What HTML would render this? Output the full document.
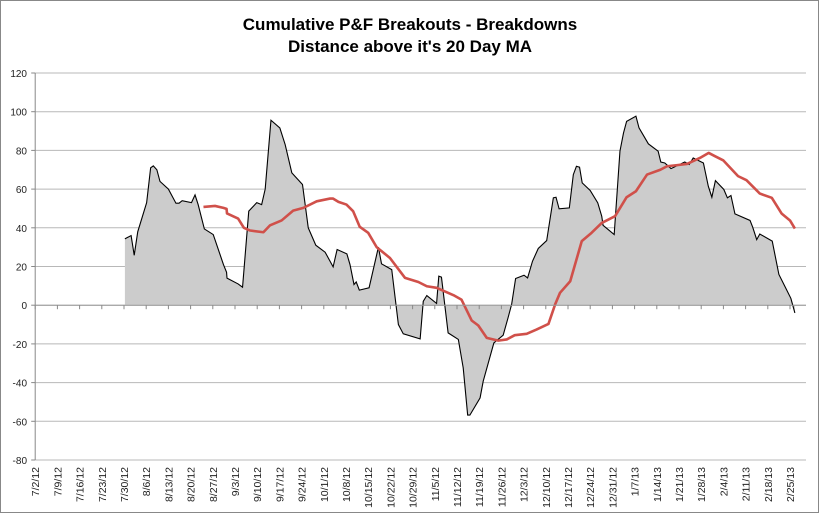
<!DOCTYPE html>
<html><head><meta charset="utf-8"><style>
body{margin:0;background:#fff}
svg{display:block;font-family:"Liberation Sans",sans-serif}
</style></head><body>
<svg id="chart" width="820" height="514">
<rect x="0.5" y="0.5" width="818" height="512" fill="#fff" stroke="#888"/>
<text x="410" y="30" text-anchor="middle" font-size="17" font-weight="bold">Cumulative P&amp;F Breakouts - Breakdowns</text>
<text x="410" y="52" text-anchor="middle" font-size="17" font-weight="bold">Distance above it's 20 Day MA</text>
<g id="grid"></g><g id="series"></g><g id="axes"></g>
</svg>
<script>
const weekLabels=["7/2/12","7/9/12","7/16/12","7/23/12","7/30/12","8/6/12","8/13/12","8/20/12","8/27/12","9/3/12","9/10/12","9/17/12","9/24/12","10/1/12","10/8/12","10/15/12","10/22/12","10/29/12","11/5/12","11/12/12","11/19/12","11/26/12","12/3/12","12/10/12","12/17/12","12/24/12","12/31/12","1/7/13","1/14/13","1/21/13","1/28/13","2/4/13","2/11/13","2/18/13","2/25/13"];
const yTicks=[-80,-60,-40,-20,0,20,40,60,80,100,120];
const breakoutDays=[20.2,21.6,22.3,23.1,25.1,26.0,26.6,27.4,28.1,30.0,31.7,32.4,33.1,35.2,36.0,36.7,38.1,40.1,42.4,43.1,43.2,45.7,46.7,48.1,49.9,51.0,51.8,53.1,55.1,56.3,57.8,60.2,61.5,63.2,65.3,67.1,68.0,70.2,70.9,71.8,72.3,73.0,75.2,77.3,78.0,80.3,81.8,82.9,86.7,87.4,88.2,90.4,90.9,91.5,93.0,95.3,96.4,97.4,97.9,100.2,100.9,103.3,105.4,106.5,107.3,108.2,110.1,110.9,112.0,113.3,115.2,116.7,117.3,118.0,120.3,121.2,121.9,122.6,123.2,125.0,126.7,127.6,127.9,130.4,131.0,131.7,132.5,133.2,135.3,136.0,138.1,140.3,140.9,141.8,143.2,146.3,147.3,148.2,149.7,150.5,151.6,152.4,153.2,155.1,155.9,156.7,157.6,161.0,161.6,162.5,163.2,166.0,166.6,167.5,169.2,170.2,171.1];
const breakoutValues=[34.3,36,25.8,38,53,71,72,70,64,60,52.7,52.7,54,53,57,52,39.4,36.5,21,17,14,11,9.3,48.6,53,52,60,95.6,91.6,83,68.4,62.4,40,31,27.4,19.8,28.8,26.5,21,10.7,12,7.8,9,30,21.4,18.4,-10,-14.8,-17.4,2,5,0.9,15,14.5,-14.3,-17.7,-32.4,-56.8,-56.8,-47.9,-39.3,-19.5,-15.5,-6.5,0.4,13.8,15.5,14.1,22.7,29.3,33.4,55.5,55.8,49.8,50.3,67.5,71.8,71.3,63.2,59.3,52.9,46,41.3,36.5,56.3,79.6,89,95,97.7,91.6,83.4,79.6,74,73.5,70.6,74,72.7,76.1,74.4,73.5,61.5,55.8,64.4,59.8,55.5,56.7,47.2,43.8,40.3,33.9,36.8,33.1,26.2,15.9,8.1,3.5,-4];
const maDays=[37.9,40.5,42.4,43.1,43.2,45.7,47.0,48.4,51.4,52.9,55.5,58.1,60.4,63.4,66.4,67.1,68.3,70.1,71.6,73.1,75.0,76.9,79.9,83.3,86.3,88.2,90.4,94.2,96.0,98.3,99.8,101.7,104.3,106.2,108.0,110.7,112.9,115.6,117.1,118.2,120.5,123.1,125.3,127.6,130.6,133.2,135.3,137.8,140.8,142.3,144.6,146.8,149.7,151.7,153.1,155.0,158.3,160.2,163.2,165.9,168.1,170.0,171.1];
const maValues=[50.8,51.3,50.3,49.8,47.4,44.8,40,38.6,37.7,41.3,43.8,48.9,50.3,53.7,55.1,55.1,53.4,52,48.6,40.5,37.4,30,24.4,14.1,12,9.8,9,5.2,2.9,-7.9,-10.5,-16.9,-18.3,-17.7,-15.5,-14.8,-12.6,-9.7,0.4,6.4,12.4,33.1,37.4,42.5,46,55.8,58.9,67.5,70,71.8,72.4,73,76.1,78.7,77,74.8,66.7,64.6,57.7,55.5,47.4,43.8,39.6];

const L=35.2,R=806,T=73,B=460,dayW=4.44;
const x=d=>L+d*dayW;
const y=v=>T+(120-v)*(B-T)/200;
const NS="http://www.w3.org/2000/svg";
function mk(tag,attrs,parent){const e=document.createElementNS(NS,tag);for(const k in attrs)e.setAttribute(k,attrs[k]);parent.appendChild(e);return e;}
const grid=document.getElementById('grid'),ser=document.getElementById('series'),ax=document.getElementById('axes');
yTicks.forEach(v=>{
  const g=mk('line',{x1:L,x2:R,y1:y(v),y2:y(v),stroke:'#b8b8b8','stroke-width':1},grid);
  
  
  const t=mk('text',{x:27,y:y(v)+4,'text-anchor':'end','font-size':10,fill:'#222'},ax);
  t.textContent=v;
  
  
  const tk=mk('line',{x1:L-4,x2:L,y1:y(v),y2:y(v),stroke:'#888'},ax);
  
  
});
const yax=mk('line',{x1:L,x2:L,y1:T,y2:B,stroke:'#888'},ax);


// area
let pts=breakoutDays.map((d,i)=>x(d)+','+y(breakoutValues[i]));
const area=mk('polygon',{points:x(breakoutDays[0])+','+y(0)+' '+pts.join(' ')+' '+x(breakoutDays[breakoutDays.length-1])+','+y(0),fill:'#cccccc',stroke:'none'},ser);


const line=mk('polyline',{points:pts.join(' '),fill:'none',stroke:'#000','stroke-width':1.1},ser);


const ma=mk('polyline',{points:maDays.map((d,i)=>x(d)+','+y(maValues[i])).join(' '),fill:'none',stroke:'#d0504a','stroke-width':2.6,'stroke-linejoin':'round'},ser);


const zl=mk('line',{x1:L,x2:R,y1:y(0),y2:y(0),stroke:'#999'},ax);


weekLabels.forEach((lab,i)=>{
  const xx=x(i*5);
  const tk=mk('line',{x1:xx,x2:xx,y1:y(0),y2:y(0)+4,stroke:'#888'},ax);
  
  
  const t=mk('text',{transform:`translate(${xx+4},467) rotate(-90)`,'text-anchor':'end','font-size':10.5,fill:'#222'},ax);
  t.textContent=lab;
  
  
});
</script>
</body></html>
